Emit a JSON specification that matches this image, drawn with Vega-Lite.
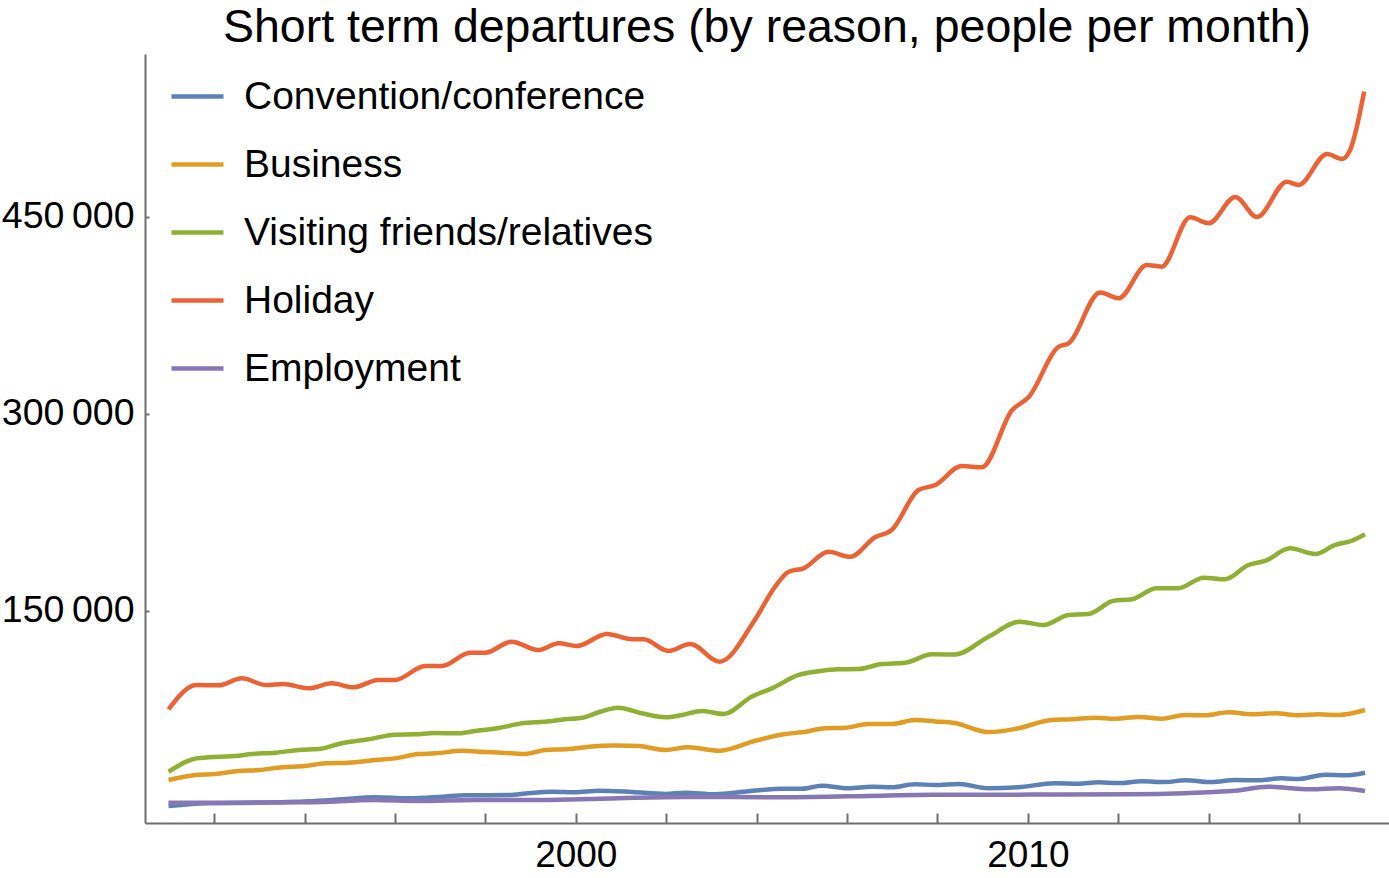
{
  "$schema": "https://vega.github.io/schema/vega-lite/v6.json",
  "width": 1244,
  "height": 769,
  "autosize": {"type": "none"},
  "padding": {"left": 145, "top": 54, "right": 0, "bottom": 55},
  "background": "white",
  "title": {"text": "Short term departures (by reason, people per month)", "font": "Liberation Sans", "fontSize": 46.5, "fontWeight": "normal", "color": "black", "anchor": "middle", "offset": 3},
  "config": {
    "view": {"stroke": null},
    "font": "Liberation Sans"
  },
  "data": {"values": [
    {"s":"Holiday","t":1990.99,"v":75100},{"s":"Holiday","t":1991.61,"v":93600},{"s":"Holiday","t":1992.10,"v":93400},{"s":"Holiday","t":1992.61,"v":98700},{"s":"Holiday","t":1993.16,"v":93600},{"s":"Holiday","t":1993.53,"v":94400},{"s":"Holiday","t":1994.09,"v":91100},{"s":"Holiday","t":1994.60,"v":94900},{"s":"Holiday","t":1995.08,"v":91900},{"s":"Holiday","t":1995.63,"v":97500},{"s":"Holiday","t":1996.00,"v":97500},{"s":"Holiday","t":1996.67,"v":108100},{"s":"Holiday","t":1997.04,"v":108100},{"s":"Holiday","t":1997.66,"v":118200},{"s":"Holiday","t":1997.99,"v":118200},{"s":"Holiday","t":1998.58,"v":126600},{"s":"Holiday","t":1999.17,"v":120300},{"s":"Holiday","t":1999.62,"v":125400},{"s":"Holiday","t":2000.02,"v":123400},{"s":"Holiday","t":2000.69,"v":132500},{"s":"Holiday","t":2001.24,"v":128500},{"s":"Holiday","t":2001.50,"v":128400},{"s":"Holiday","t":2002.05,"v":119500},{"s":"Holiday","t":2002.53,"v":124900},{"s":"Holiday","t":2003.18,"v":111400},{"s":"Holiday","t":2003.97,"v":143800},{"s":"Holiday","t":2004.41,"v":168500},{"s":"Holiday","t":2004.71,"v":179900},{"s":"Holiday","t":2005.04,"v":182500},{"s":"Holiday","t":2005.59,"v":195100},{"s":"Holiday","t":2006.07,"v":191300},{"s":"Holiday","t":2006.62,"v":206100},{"s":"Holiday","t":2006.99,"v":211700},{"s":"Holiday","t":2007.58,"v":242100},{"s":"Holiday","t":2007.95,"v":245900},{"s":"Holiday","t":2008.54,"v":260400},{"s":"Holiday","t":2008.98,"v":259400},{"s":"Holiday","t":2009.65,"v":302800},{"s":"Holiday","t":2010.02,"v":312900},{"s":"Holiday","t":2010.68,"v":351200},{"s":"Holiday","t":2010.90,"v":353800},{"s":"Holiday","t":2011.60,"v":392600},{"s":"Holiday","t":2012.01,"v":388100},{"s":"Holiday","t":2012.63,"v":413400},{"s":"Holiday","t":2012.96,"v":412200},{"s":"Holiday","t":2013.59,"v":449800},{"s":"Holiday","t":2014.00,"v":445200},{"s":"Holiday","t":2014.59,"v":465200},{"s":"Holiday","t":2015.07,"v":450000},{"s":"Holiday","t":2015.73,"v":476900},{"s":"Holiday","t":2015.99,"v":474400},{"s":"Holiday","t":2016.62,"v":498000},{"s":"Holiday","t":2016.95,"v":494200},{"s":"Holiday","t":2017.13,"v":501000},{"s":"Holiday","t":2017.44,"v":545400},

    {"s":"Visiting friends/relatives","t":1990.99,"v":27600},{"s":"Visiting friends/relatives","t":1991.61,"v":37800},{"s":"Visiting friends/relatives","t":1992.10,"v":39100},{"s":"Visiting friends/relatives","t":1992.46,"v":39600},{"s":"Visiting friends/relatives","t":1992.83,"v":41100},{"s":"Visiting friends/relatives","t":1993.35,"v":42100},{"s":"Visiting friends/relatives","t":1993.87,"v":44200},{"s":"Visiting friends/relatives","t":1994.31,"v":44900},{"s":"Visiting friends/relatives","t":1994.82,"v":49300},{"s":"Visiting friends/relatives","t":1995.41,"v":52300},{"s":"Visiting friends/relatives","t":1996.00,"v":55800},{"s":"Visiting friends/relatives","t":1996.44,"v":56100},{"s":"Visiting friends/relatives","t":1996.89,"v":57100},{"s":"Visiting friends/relatives","t":1997.40,"v":56900},{"s":"Visiting friends/relatives","t":1997.77,"v":58600},{"s":"Visiting friends/relatives","t":1998.29,"v":60900},{"s":"Visiting friends/relatives","t":1998.81,"v":64500},{"s":"Visiting friends/relatives","t":1999.32,"v":65700},{"s":"Visiting friends/relatives","t":1999.76,"v":67500},{"s":"Visiting friends/relatives","t":2000.15,"v":68700},{"s":"Visiting friends/relatives","t":2000.54,"v":73300},{"s":"Visiting friends/relatives","t":2000.94,"v":76400},{"s":"Visiting friends/relatives","t":2001.46,"v":72100},{"s":"Visiting friends/relatives","t":2001.98,"v":69100},{"s":"Visiting friends/relatives","t":2002.35,"v":70800},{"s":"Visiting friends/relatives","t":2002.79,"v":73900},{"s":"Visiting friends/relatives","t":2003.27,"v":71600},{"s":"Visiting friends/relatives","t":2003.89,"v":84700},{"s":"Visiting friends/relatives","t":2004.34,"v":91100},{"s":"Visiting friends/relatives","t":2004.93,"v":101300},{"s":"Visiting friends/relatives","t":2005.29,"v":103800},{"s":"Visiting friends/relatives","t":2005.81,"v":105600},{"s":"Visiting friends/relatives","t":2006.25,"v":105800},{"s":"Visiting friends/relatives","t":2006.77,"v":109600},{"s":"Visiting friends/relatives","t":2007.29,"v":110600},{"s":"Visiting friends/relatives","t":2007.88,"v":117000},{"s":"Visiting friends/relatives","t":2008.39,"v":116900},{"s":"Visiting friends/relatives","t":2009.13,"v":130400},{"s":"Visiting friends/relatives","t":2009.83,"v":141900},{"s":"Visiting friends/relatives","t":2010.35,"v":139300},{"s":"Visiting friends/relatives","t":2010.90,"v":147000},{"s":"Visiting friends/relatives","t":2011.34,"v":147700},{"s":"Visiting friends/relatives","t":2011.90,"v":157800},{"s":"Visiting friends/relatives","t":2012.30,"v":158900},{"s":"Visiting friends/relatives","t":2012.85,"v":167300},{"s":"Visiting friends/relatives","t":2013.33,"v":167300},{"s":"Visiting friends/relatives","t":2013.89,"v":175400},{"s":"Visiting friends/relatives","t":2014.36,"v":174100},{"s":"Visiting friends/relatives","t":2014.88,"v":185000},{"s":"Visiting friends/relatives","t":2015.25,"v":188100},{"s":"Visiting friends/relatives","t":2015.80,"v":197700},{"s":"Visiting friends/relatives","t":2016.36,"v":193400},{"s":"Visiting friends/relatives","t":2016.80,"v":200300},{"s":"Visiting friends/relatives","t":2017.17,"v":203500},{"s":"Visiting friends/relatives","t":2017.46,"v":208400},

    {"s":"Business","t":1990.99,"v":21300},{"s":"Business","t":1991.58,"v":25100},{"s":"Business","t":1992.02,"v":25900},{"s":"Business","t":1992.54,"v":28200},{"s":"Business","t":1992.98,"v":28900},{"s":"Business","t":1993.50,"v":31000},{"s":"Business","t":1994.01,"v":32000},{"s":"Business","t":1994.46,"v":34000},{"s":"Business","t":1994.97,"v":34500},{"s":"Business","t":1995.56,"v":36500},{"s":"Business","t":1996.00,"v":37800},{"s":"Business","t":1996.52,"v":41100},{"s":"Business","t":1996.89,"v":41600},{"s":"Business","t":1997.48,"v":43600},{"s":"Business","t":1997.99,"v":42600},{"s":"Business","t":1998.36,"v":42100},{"s":"Business","t":1998.88,"v":41100},{"s":"Business","t":1999.32,"v":44200},{"s":"Business","t":1999.84,"v":44900},{"s":"Business","t":2000.25,"v":46500},{"s":"Business","t":2000.87,"v":47600},{"s":"Business","t":2001.39,"v":47200},{"s":"Business","t":2001.98,"v":44200},{"s":"Business","t":2002.49,"v":46200},{"s":"Business","t":2003.16,"v":43600},{"s":"Business","t":2003.97,"v":51200},{"s":"Business","t":2004.63,"v":56300},{"s":"Business","t":2005.00,"v":57600},{"s":"Business","t":2005.52,"v":60700},{"s":"Business","t":2005.96,"v":61100},{"s":"Business","t":2006.48,"v":64000},{"s":"Business","t":2006.99,"v":64000},{"s":"Business","t":2007.51,"v":67000},{"s":"Business","t":2007.95,"v":65900},{"s":"Business","t":2008.35,"v":64900},{"s":"Business","t":2009.15,"v":57800},{"s":"Business","t":2009.79,"v":60700},{"s":"Business","t":2010.53,"v":67000},{"s":"Business","t":2010.97,"v":67500},{"s":"Business","t":2011.49,"v":68800},{"s":"Business","t":2011.93,"v":68000},{"s":"Business","t":2012.45,"v":69300},{"s":"Business","t":2012.96,"v":68000},{"s":"Business","t":2013.48,"v":70800},{"s":"Business","t":2013.92,"v":70600},{"s":"Business","t":2014.44,"v":72900},{"s":"Business","t":2014.96,"v":71300},{"s":"Business","t":2015.47,"v":72100},{"s":"Business","t":2015.99,"v":70600},{"s":"Business","t":2016.43,"v":71300},{"s":"Business","t":2016.87,"v":70800},{"s":"Business","t":2017.46,"v":74600},

    {"s":"Convention/conference","t":1990.99,"v":1500},{"s":"Convention/conference","t":1991.87,"v":3600},{"s":"Convention/conference","t":1992.98,"v":4000},{"s":"Convention/conference","t":1994.09,"v":5100},{"s":"Convention/conference","t":1994.82,"v":6600},{"s":"Convention/conference","t":1995.56,"v":8200},{"s":"Convention/conference","t":1996.30,"v":7400},{"s":"Convention/conference","t":1997.04,"v":8600},{"s":"Convention/conference","t":1997.55,"v":9700},{"s":"Convention/conference","t":1998.51,"v":9900},{"s":"Convention/conference","t":1998.95,"v":11200},{"s":"Convention/conference","t":1999.47,"v":12400},{"s":"Convention/conference","t":1999.98,"v":12000},{"s":"Convention/conference","t":2000.50,"v":13200},{"s":"Convention/conference","t":2001.24,"v":12200},{"s":"Convention/conference","t":2001.98,"v":10700},{"s":"Convention/conference","t":2002.42,"v":11700},{"s":"Convention/conference","t":2003.08,"v":10400},{"s":"Convention/conference","t":2003.82,"v":12700},{"s":"Convention/conference","t":2004.56,"v":14700},{"s":"Convention/conference","t":2005.00,"v":14700},{"s":"Convention/conference","t":2005.44,"v":17000},{"s":"Convention/conference","t":2006.03,"v":15000},{"s":"Convention/conference","t":2006.55,"v":16200},{"s":"Convention/conference","t":2006.99,"v":15800},{"s":"Convention/conference","t":2007.51,"v":18100},{"s":"Convention/conference","t":2007.95,"v":17500},{"s":"Convention/conference","t":2008.47,"v":18300},{"s":"Convention/conference","t":2009.13,"v":15000},{"s":"Convention/conference","t":2009.79,"v":15800},{"s":"Convention/conference","t":2010.60,"v":18800},{"s":"Convention/conference","t":2011.12,"v":18500},{"s":"Convention/conference","t":2011.56,"v":19600},{"s":"Convention/conference","t":2012.01,"v":19000},{"s":"Convention/conference","t":2012.52,"v":20300},{"s":"Convention/conference","t":2013.04,"v":19800},{"s":"Convention/conference","t":2013.48,"v":21100},{"s":"Convention/conference","t":2014.07,"v":19800},{"s":"Convention/conference","t":2014.59,"v":21300},{"s":"Convention/conference","t":2015.10,"v":21100},{"s":"Convention/conference","t":2015.62,"v":22600},{"s":"Convention/conference","t":2015.99,"v":22100},{"s":"Convention/conference","t":2016.58,"v":25400},{"s":"Convention/conference","t":2017.02,"v":24900},{"s":"Convention/conference","t":2017.46,"v":26900},

    {"s":"Employment","t":1990.99,"v":4000},{"s":"Employment","t":1992.25,"v":4000},{"s":"Employment","t":1994.09,"v":4300},{"s":"Employment","t":1995.56,"v":6100},{"s":"Employment","t":1996.52,"v":5300},{"s":"Employment","t":1997.77,"v":6100},{"s":"Employment","t":1999.25,"v":6100},{"s":"Employment","t":2000.54,"v":7100},{"s":"Employment","t":2002.35,"v":8400},{"s":"Employment","t":2004.56,"v":8200},{"s":"Employment","t":2006.77,"v":9400},{"s":"Employment","t":2007.88,"v":10000},{"s":"Employment","t":2010.09,"v":10200},{"s":"Employment","t":2012.30,"v":10400},{"s":"Employment","t":2014.51,"v":12900},{"s":"Employment","t":2015.32,"v":16200},{"s":"Employment","t":2015.83,"v":15000},{"s":"Employment","t":2016.27,"v":14200},{"s":"Employment","t":2016.87,"v":15000},{"s":"Employment","t":2017.46,"v":12900}
  ]},
  "mark": {"type": "line", "interpolate": "monotone", "strokeWidth": 4.5, "clip": true},
  "encoding": {
    "x": {
      "field": "t", "type": "quantitative",
      "scale": {"domain": [1990.47, 2017.99], "nice": false, "zero": false},
      "axis": {
        "title": null, "grid": false,
        "values": [1992, 1994, 1996, 1998, 2000, 2002, 2004, 2006, 2008, 2010, 2012, 2014, 2016],
        "labelExpr": "datum.value == 2000 || datum.value == 2010 ? datum.value : ''",
        "format": "d",
        "domainColor": "#6e6e6e", "domainWidth": 2,
        "tickColor": "#6e6e6e", "tickWidth": 2, "tickSize": -10,
        "labelPadding": 24, "labelFontSize": 37, "labelFont": "Liberation Sans", "labelColor": "black",
        "labelFlush": false, "labelOverlap": false
      }
    },
    "y": {
      "field": "v", "type": "quantitative",
      "scale": {"domain": [-11420, 574100], "nice": false, "zero": false},
      "axis": {
        "title": null, "grid": false,
        "values": [150000, 300000, 450000],
        "format": ",d",
        "labelExpr": "replace(datum.label, ',', '\u2009')",
        "domainColor": "#6e6e6e", "domainWidth": 2,
        "tickColor": "#6e6e6e", "tickWidth": 2, "tickSize": -4,
        "labelPadding": 15, "labelFontSize": 37.5, "labelFont": "Liberation Sans", "labelColor": "black",
        "labelFlush": false, "labelOverlap": false
      }
    },
    "color": {
      "field": "s", "type": "nominal",
      "scale": {
        "domain": ["Convention/conference", "Business", "Visiting friends/relatives", "Holiday", "Employment"],
        "range": ["#5E81B5", "#E19C24", "#8FB032", "#EB6235", "#8778B3"]
      },
      "legend": {
        "title": null, "orient": "none", "legendX": 24, "legendY": 14,
        "symbolType": "stroke", "symbolSize": 2704, "symbolStrokeWidth": 4.5,
        "labelFontSize": 39, "labelFont": "Liberation Sans", "labelColor": "black",
        "labelOffset": 18, "rowPadding": 19, "labelLimit": 0
      }
    }
  }
}
